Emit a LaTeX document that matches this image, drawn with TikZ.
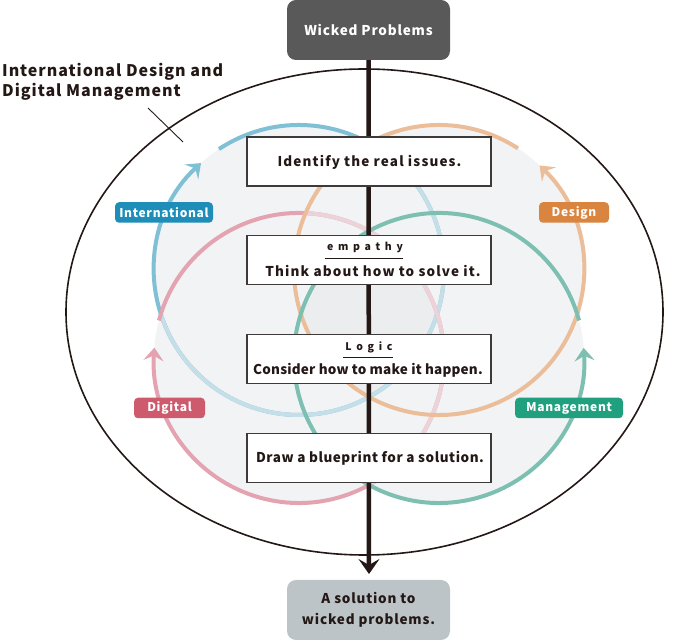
\documentclass[tikz,border=0pt]{standalone}
\usepackage{fontspec}
\setmainfont{Noto Sans CJK JP}
\newfontfamily\jp{Noto Sans CJK JP}[LetterSpace=6]
\newfontfamily\jpwide{Noto Sans CJK JP}[LetterSpace=45]
\usetikzlibrary{arrows.meta}
\definecolor{cblue}{HTML}{7FC0D5}
\definecolor{corange}{HTML}{EBBD99}
\definecolor{cpink}{HTML}{E3A3B1}
\definecolor{cteal}{HTML}{7DBFB1}
\definecolor{lblue}{HTML}{1E8DB7}
\definecolor{lorange}{HTML}{D9843F}
\definecolor{lpink}{HTML}{CD5A6D}
\definecolor{lteal}{HTML}{20A07F}
\definecolor{bgfill}{HTML}{F2F3F5}
\definecolor{midfill}{HTML}{ECEDEF}
\definecolor{topbox}{HTML}{595959}
\definecolor{botbox}{HTML}{BDC4C8}
\definecolor{ink}{HTML}{231815}
\definecolor{boxline}{HTML}{3E3A39}
\tikzset{
  ring/.style={line width=4pt},
  ringtip/.style={-{Stealth[length=13pt,width=20pt,inset=5pt]}},
  stepbox/.style={draw=boxline, line width=1.4pt, fill=white, minimum width=244pt, minimum height=49pt, inner sep=0pt},
  boxtext/.style={font=\jp\bfseries\fontsize{13.5}{16}\selectfont, text=ink, anchor=base, inner sep=0pt},
  subtext/.style={font=\jpwide\bfseries\fontsize{10.5}{12}\selectfont, text=ink, anchor=base, inner sep=0pt},
  tag/.style={rounded corners=4pt, minimum height=20.5pt, inner sep=0pt, text=white, font=\jp\bfseries\fontsize{12}{14}\selectfont},
  endbox/.style={rounded corners=9pt, minimum width=163pt, minimum height=60pt, inner sep=0pt, align=center, font=\jp\bfseries\fontsize{13.5}{21}\selectfont}
}
\newcommand{\bluearc}{(B) ++(123.5:145) arc[start angle=123.5, end angle=-227.5, radius=145]}
\newcommand{\pinkarc}{(P) ++(165:145) arc[start angle=165, end angle=-184.1, radius=145]}
\newcommand{\orangearc}{(O) ++(57:145) arc[start angle=57, end angle=406.1, radius=145]}
\newcommand{\tealarc}{(T) ++(15:145) arc[start angle=15, end angle=364, radius=145]}
\begin{document}
\begin{tikzpicture}[x=1pt,y=1pt]
\useasboundingbox (0,0) rectangle (673,640);
% pixel coordinates: (x, 640-y)
\coordinate (B) at (299,370);
\coordinate (O) at (439,370);
\coordinate (P) at (299,282);
\coordinate (T) at (439,282);
% fills
\fill[bgfill] (B) circle[radius=145] (O) circle[radius=145] (P) circle[radius=145] (T) circle[radius=145];
\begin{scope}
  \clip (B) circle[radius=145];
  \clip (O) circle[radius=145];
  \clip (P) circle[radius=145];
  \fill[midfill] (T) circle[radius=145];
\end{scope}
% blue ring
\draw[ring, ringtip, cblue] \bluearc;
\begin{scope}
  \clip (P) circle[radius=145] (O) circle[radius=145] (T) circle[radius=145];
  \draw[ring, cblue!40!bgfill] \bluearc;
\end{scope}
% pink ring
\draw[ring, ringtip, cpink] \pinkarc;
\begin{scope}
  \clip (O) circle[radius=145] (T) circle[radius=145];
  \draw[ring, cpink!40!bgfill] \pinkarc;
\end{scope}
% orange and teal rings
\draw[ring, ringtip, corange] \orangearc;
\draw[ring, ringtip, cteal] \tealarc;
% big ellipse
\coordinate (ellc) at (364.5,328);
\draw[ink, line width=1.6pt] (ellc) ellipse[x radius=298.5, y radius=243];
% title and leader
\node[anchor=base west, inner sep=0pt, align=left, font=\jp\bfseries\fontsize{16}{20}\selectfont, text=ink] (title) at (2,543) {International Design and\\Digital Management};
\coordinate (lead1) at (148,532);
\coordinate (lead2) at (183,498);
\draw[ink, line width=0.9pt] (lead1) -- (lead2);
% end boxes
\node[endbox, fill=topbox, text=white] (top) at (368.5,610) {Wicked Problems};
\node[endbox, fill=botbox, text=ink] (bot) at (368.5,30) {A solution to\\wicked problems.};
\coordinate (tip) at (369,66);
\draw[ink, line width=4.5pt, -{Stealth[length=15pt,width=21pt,inset=6pt]}] (top.south) -- (tip);
% step boxes
\node[stepbox] (s1) at (369,478.5) {};
\node[stepbox] (s2) at (369,380) {};
\node[stepbox] (s3) at (369,281) {};
\node[stepbox] (s4) at (369,182) {};
\node[boxtext] (t1) at (369.5,473) {\addfontfeatures{LetterSpace=8.5}Identify the real issues.};
\node[subtext] (e2) at (365,389) {empathy};
\draw[ink, line width=0.9pt] (325,382) -- (403,382);
\node[boxtext] (t2) at (373,363.5) {\addfontfeatures{LetterSpace=8.5}Think about how to solve it.};
\node[subtext] (e3) at (369,289.5) {Logic};
\draw[ink, line width=0.9pt] (343,283) -- (393,283);
\node[boxtext] (t3) at (368,265) {\addfontfeatures{LetterSpace=1.5}Consider how to make it happen.};
\node[boxtext] (t4) at (370,177) {\addfontfeatures{LetterSpace=4}Draw a blueprint for a solution.};
% tags
\node[tag, fill=lblue, minimum width=98pt] (lint) at (164,427.5) {International};
\node[tag, fill=lorange, minimum width=70pt] (ldes) at (574,427.5) {Design};
\node[tag, fill=lpink, minimum width=71pt] (ldig) at (169.5,232) {Digital};
\node[tag, fill=lteal, minimum width=108pt] (lman) at (569,232) {Management};
\end{tikzpicture}
\end{document}
